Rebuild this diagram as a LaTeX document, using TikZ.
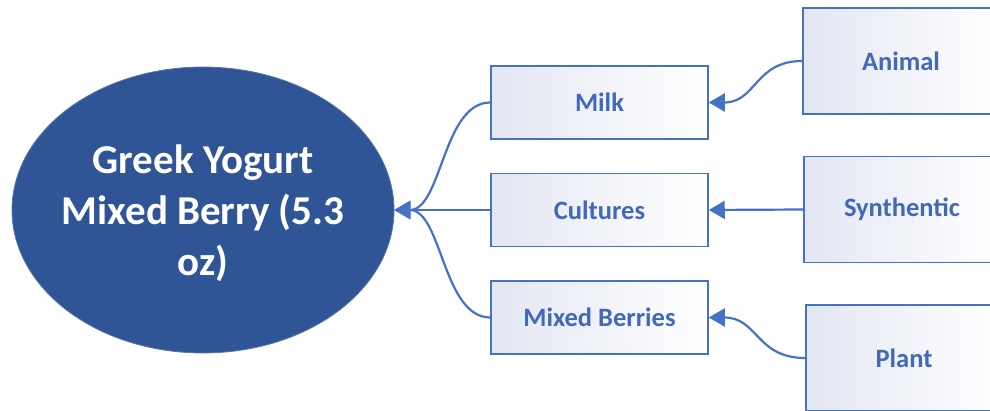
\documentclass[tikz,border=0pt]{standalone}
\usepackage{fontspec}
\setmainfont{Carlito}
\usetikzlibrary{arrows.meta,shapes.geometric}
\definecolor{ellfill}{HTML}{2F5597}
\definecolor{linec}{HTML}{4472C4}
\definecolor{txtc}{HTML}{4169B8}
\definecolor{boxtop}{HTML}{E3E7F3}
\tikzset{
  mainell/.style={ellipse, fill=ellfill, draw=ellfill!80!white, line width=0.8pt,
    minimum width=382pt, minimum height=286pt, inner sep=0pt},
  elltext/.style={text=white, inner sep=0pt,
    font=\bfseries\fontsize{41}{51}\selectfont, align=center},
  ingbox/.style={rectangle, draw=linec, line width=1.5pt, left color=boxtop, right color=white,
    minimum width=217pt, minimum height=73pt, inner sep=0pt,
    text=txtc, font=\bfseries\fontsize{26.5}{30}\selectfont},
  srcbox/.style={ingbox, minimum width=196pt, minimum height=106pt},
  conn/.style={draw=linec, line width=2.2pt, -{Triangle[length=16pt,width=18pt]}}
}
\begin{document}
\begin{tikzpicture}[x=1pt,y=-1pt]
\useasboundingbox (0,0) rectangle (990,411);
\node[mainell] (ell) at (203,210) {};
\node[elltext] (elltxt) at (203,213) {Greek Yogurt\\Mixed Berry (5.3\\oz)};
\node[ingbox] (milk) at (599.5,102.5) {Milk};
\node[ingbox] (cult) at (599.5,210) {Cultures};
\node[ingbox] (berr) at (599.5,317.5) {Mixed Berries};
\node[srcbox] (anim) at (901,61) {Animal};
\node[srcbox] (synt) at (902,209.5) {Synthentic};
\node[srcbox] (plan) at (904,358) {Plant};
\path[conn] (milk.west) .. controls +(-47.5,0) and +(47.5,0) .. (ell.east);
\path[conn] (cult.west) -- (ell.east);
\path[conn] (berr.west) .. controls +(-47.5,0) and +(47.5,0) .. (ell.east);
\path[conn] (anim.west) .. controls +(-47.5,0) and +(47.5,0) .. (milk.east);
\path[conn] (synt.west) -- (cult.east);
\path[conn] (plan.west) .. controls +(-49.5,0) and +(49.5,0) .. (berr.east);
\end{tikzpicture}
\end{document}
